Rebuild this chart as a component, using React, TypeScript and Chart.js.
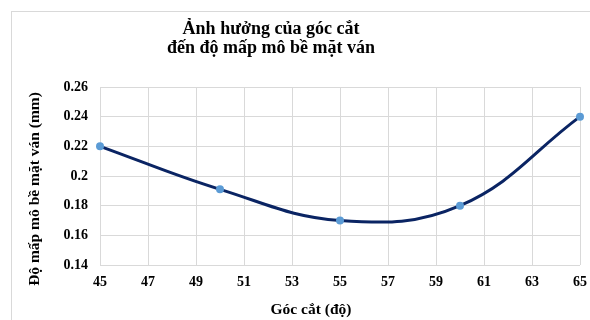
import React, { useEffect, useRef } from "react";
import { Chart, registerables } from "chart.js";

Chart.register(...registerables);

// Cutting angle (degrees) and measured surface roughness (mm)
const cutAngles = [45, 50, 55, 60, 65];
const roughness = [0.22, 0.191, 0.17, 0.18, 0.24];

const titleLines = ["Ảnh hưởng của góc cắt", "đến độ mấp mô bề mặt ván"];
const xAxisTitle = "Góc cắt (độ)";
const yAxisTitle = "Độ mấp mô bề mặt ván (mm)";

const FONT = "'Liberation Serif', 'Times New Roman', serif";

const framePlugin = {
  id: "frameAndTitles",
  beforeDraw(chart: any) {
    const { ctx } = chart;
    ctx.save();
    ctx.fillStyle = "#ffffff";
    ctx.fillRect(0, 0, chart.width, chart.height);
    ctx.strokeStyle = "#d9d9d9";
    ctx.lineWidth = 1;
    ctx.strokeRect(11.5, 11.5, chart.width + 20, chart.height + 20);
    ctx.restore();
  },
  afterDraw(chart: any) {
    const { ctx } = chart;
    ctx.save();
    ctx.fillStyle = "#000000";
    ctx.textAlign = "center";
    ctx.textBaseline = "alphabetic";
    ctx.font = `bold 18px ${FONT}`;
    ctx.fillText(titleLines[0], 271, 34);
    ctx.fillText(titleLines[1], 271, 53);

    ctx.font = `bold 15.5px ${FONT}`;
    ctx.textBaseline = "middle";
    ctx.fillText(xAxisTitle, 311, 310);

    ctx.translate(35, 189);
    ctx.rotate(-Math.PI / 2);
    ctx.fillText(yAxisTitle, 0, 0);
    ctx.restore();
  },
};

export default function App() {
  const canvasRef = useRef<HTMLCanvasElement | null>(null);

  useEffect(() => {
    if (!canvasRef.current) return;
    const chart = new Chart(canvasRef.current, {
      type: "line",
      data: {
        datasets: [
          {
            data: cutAngles.map((x, i) => ({ x, y: roughness[i] })),
            borderColor: "#0a2463",
            borderWidth: 3,
            tension: 0.4,
            pointRadius: 4,
            pointBackgroundColor: "#5b9bd5",
            pointBorderColor: "#5b9bd5",
            pointBorderWidth: 0,
            clip: false,
          },
        ],
      },
      options: {
        animation: false,
        responsive: false,
        maintainAspectRatio: false,
        layout: { autoPadding: false, padding: { top: 87, right: 10, left: 0, bottom: 0 } },
        plugins: {
          legend: { display: false },
          title: { display: false },
          tooltip: { enabled: false },
        },
        scales: {
          x: {
            type: "linear",
            min: 45,
            max: 65,
            ticks: {
              stepSize: 2,
              padding: 9,
              color: "#000000",
              font: { family: FONT, size: 14, weight: "bold" },
            },
            grid: { color: "#d9d9d9", lineWidth: 1, drawTicks: false },
            border: { display: false },
            afterFit(scale: any) {
              scale.height = 55;
              scale.paddingLeft = 0;
              scale.paddingRight = 0;
            },
          },
          y: {
            type: "linear",
            min: 0.14,
            max: 0.26,
            ticks: {
              stepSize: 0.02,
              padding: 12,
              color: "#000000",
              font: { family: FONT, size: 14, weight: "bold" },
              callback: (v: any) => String(Number(Number(v).toFixed(2))),
            },
            grid: { color: "#d9d9d9", lineWidth: 1, drawTicks: false },
            border: { display: false },
            afterFit(scale: any) {
              scale.width = 100;
              scale.paddingTop = 0;
              scale.paddingBottom = 0;
            },
          },
        },
      },
      plugins: [framePlugin],
    });
    return () => chart.destroy();
  }, []);

  return (
    <div style={{ position: "fixed", left: 0, top: 0, width: 590, height: 320, background: "#fff" }}>
      <canvas ref={canvasRef} width={590} height={320} style={{ display: "block" }} />
    </div>
  );
}
